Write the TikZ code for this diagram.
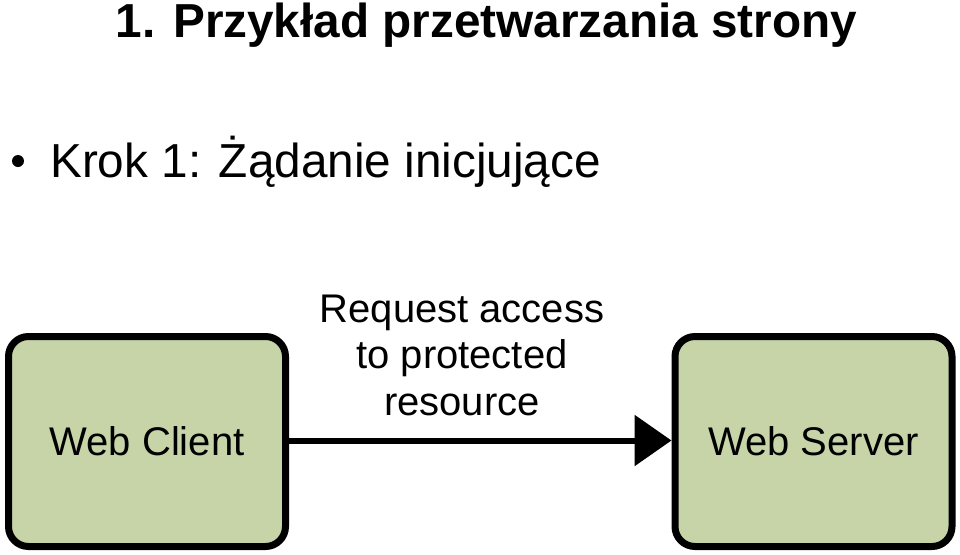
\documentclass[tikz,border=0pt]{standalone}
\usepackage{fontspec}
\setmainfont{Liberation Sans}
\usetikzlibrary{arrows.meta,shadows}
\definecolor{boxgreen}{RGB}{198,212,168}
\tikzset{
  box/.style={draw=black, line width=7pt, rounded corners=20pt, fill=boxgreen,
    minimum width=277pt, minimum height=210pt, inner sep=0pt,
    drop shadow={shadow xshift=2pt, shadow yshift=-2pt, fill=black!45, opacity=0.6},
    font=\fontsize{40}{46}\selectfont},
  lbl/.style={font=\fontsize{40}{46.5}\selectfont, align=center, inner sep=0pt},
  conn/.style={line width=6pt, -{Triangle[length=37pt,width=50pt]}},
}
\begin{document}
\begin{tikzpicture}[x=1pt,y=-1pt]
\useasboundingbox (0,0) rectangle (960,554);
\node[anchor=base, inner sep=0pt, font=\bfseries\fontsize{47.7}{50}\selectfont] (title) at (486.5,37) {1. Przykład przetwarzania strony};
\node[circle, fill=black, inner sep=0pt, minimum size=12pt] (bullet) at (18,161) {};
\node[anchor=base west, inner sep=0pt, font=\fontsize{47.7}{50}\selectfont] (step) at (50,177) {Krok 1: Żądanie inicjujące};
\node[box] (client) at (147,441.5) {Web Client};
\node[box] (server) at (813.5,441.5) {Web Server};
\draw[conn] (client.east |- 0,440.5) -- (server.west |- 0,440.5);
\node[lbl, anchor=base] (label) at (462,415) {Request access\\to protected\\resource};
\end{tikzpicture}
\end{document}
